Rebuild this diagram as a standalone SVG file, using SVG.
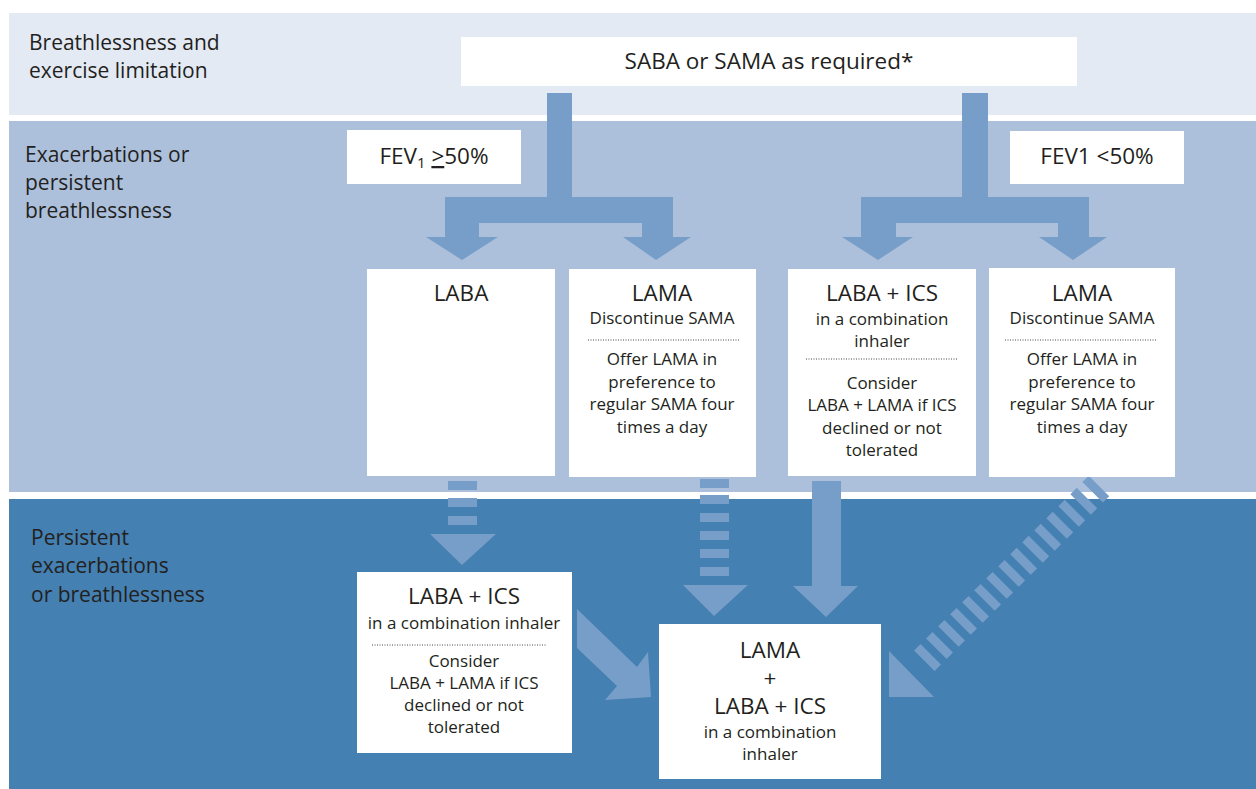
<svg xmlns="http://www.w3.org/2000/svg" width="1256" height="789" viewBox="0 0 1256 789">
<style>
text{font-family:"Open Sans",Lato,"Liberation Sans",sans-serif;fill:#231f20;}
.band{font-size:21px;}
.t{font-size:22.5px;text-anchor:middle;}
.s{font-size:17px;text-anchor:middle;}
.box{fill:#ffffff;}
.arr{fill:#779ec8;}
.dot{stroke:#444;stroke-width:1;stroke-dasharray:1 1.5;}
</style>
<rect x="0" y="0" width="1256" height="789" fill="#ffffff"/>
<g id="bands">
<rect x="9" y="13" width="1247" height="102" fill="#e3eaf4"/>
<rect x="9" y="121" width="1247" height="371" fill="#acc0dc"/>
<rect x="9" y="499" width="1247" height="290" fill="#4480b1"/>
<text class="band" x="29" y="50">Breathlessness and</text>
<text class="band" x="29" y="78">exercise limitation</text>
<text class="band" x="25" y="162">Exacerbations or</text>
<text class="band" x="25" y="190">persistent</text>
<text class="band" x="25" y="218">breathlessness</text>
<text class="band" x="31" y="545">Persistent</text>
<text class="band" x="31" y="573">exacerbations</text>
<text class="band" x="31" y="602">or breathlessness</text>
</g>
<g id="connectors">
<path class="arr" d="M547,93 H572 V197 H673 V237 H691 L656,260 L623,237 H642 V223 H479 V237 H498 L462,260 L426,237 H445 V197 H547 Z"/>
<path class="arr" d="M962,93 H988 V197 H1089 V237 H1107 L1073,260 L1039,237 H1058 V223 H896 V237 H913 L878,260 L842,237 H861 V197 H962 Z"/>
<g class="arr">
<rect x="448" y="481" width="29" height="9"/>
<rect x="448" y="498" width="29" height="9"/>
<rect x="448" y="516" width="29" height="9"/>
<polygon points="430,534 496,534 462,565"/>
<rect x="700" y="479" width="29" height="9"/>
<rect x="700" y="495" width="29" height="9"/>
<rect x="700" y="513" width="29" height="9"/>
<rect x="700" y="531" width="29" height="9"/>
<rect x="700" y="549" width="29" height="9"/>
<rect x="700" y="567" width="29" height="9"/>
<polygon points="683,585 748,585 714,616"/>
<path d="M812,481 H841 V586 H858 L826,617 L793,586 H812 Z"/>
<polygon points="577,609 637,667 648,652 651,697 605,700 617,686 577,648"/>
<line x1="1099" y1="486" x2="924" y2="661" stroke="#779ec8" stroke-width="29" stroke-dasharray="9 8"/>
<polygon points="889,651 934,697 889,697"/>
</g>
</g>
<g id="n-saba">
<rect class="box" x="461" y="37" width="616" height="49"/>
<text class="t" x="769" y="69" font-size="23">SABA or SAMA as required*</text>
</g>
<g id="n-fev-high">
<rect class="box" x="347" y="130" width="174" height="54"/>
<text class="t" x="434" y="164" font-size="22">FEV<tspan font-size="15" dy="4">1</tspan><tspan dy="-4"> </tspan><tspan text-decoration="underline">&gt;</tspan>50%</text>
</g>
<g id="n-fev-low">
<rect class="box" x="1010" y="131" width="174" height="53"/>
<text class="t" x="1097" y="164" font-size="22">FEV1 &lt;50%</text>
</g>
<g id="n-laba">
<rect class="box" x="367" y="269" width="188" height="207"/>
<text class="t" x="461" y="301">LABA</text>
</g>
<g id="n-lama1">
<rect class="box" x="569" y="269" width="187" height="208"/>
<text class="t" x="662" y="301">LAMA</text>
<text class="s" x="662" y="324">Discontinue SAMA</text>
<line class="dot" x1="588" y1="340" x2="739" y2="340"/>
<text class="s" x="662" y="365">Offer LAMA in</text>
<text class="s" x="662" y="388">preference to</text>
<text class="s" x="662" y="410">regular SAMA four</text>
<text class="s" x="662" y="433">times a day</text>
</g>
<g id="n-labaics1">
<rect class="box" x="788" y="269" width="188" height="207"/>
<text class="t" x="882" y="301">LABA + ICS</text>
<text class="s" x="882" y="325">in a combination</text>
<text class="s" x="882" y="347">inhaler</text>
<line class="dot" x1="806" y1="359" x2="958" y2="359"/>
<text class="s" x="882" y="389">Consider</text>
<text class="s" x="882" y="411">LABA + LAMA if ICS</text>
<text class="s" x="882" y="434">declined or not</text>
<text class="s" x="882" y="456">tolerated</text>
</g>
<g id="n-lama2">
<rect class="box" x="989" y="268" width="186" height="209"/>
<text class="t" x="1082" y="301">LAMA</text>
<text class="s" x="1082" y="324">Discontinue SAMA</text>
<line class="dot" x1="1005" y1="340" x2="1157" y2="340"/>
<text class="s" x="1082" y="365">Offer LAMA in</text>
<text class="s" x="1082" y="388">preference to</text>
<text class="s" x="1082" y="410">regular SAMA four</text>
<text class="s" x="1082" y="433">times a day</text>
</g>
<g id="n-labaics2">
<rect class="box" x="357" y="572" width="215" height="181"/>
<text class="t" x="464" y="604">LABA + ICS</text>
<text class="s" x="464" y="629">in a combination inhaler</text>
<line class="dot" x1="372" y1="645" x2="547" y2="645"/>
<text class="s" x="464" y="667">Consider</text>
<text class="s" x="464" y="689">LABA + LAMA if ICS</text>
<text class="s" x="464" y="711">declined or not</text>
<text class="s" x="464" y="733">tolerated</text>
</g>
<g id="n-triple">
<rect class="box" x="659" y="624" width="222" height="155"/>
<text class="t" x="770" y="658">LAMA</text>
<text class="t" x="770" y="686">+</text>
<text class="t" x="770" y="714">LABA + ICS</text>
<text class="s" x="770" y="738">in a combination</text>
<text class="s" x="770" y="760">inhaler</text>
</g>
</svg>
